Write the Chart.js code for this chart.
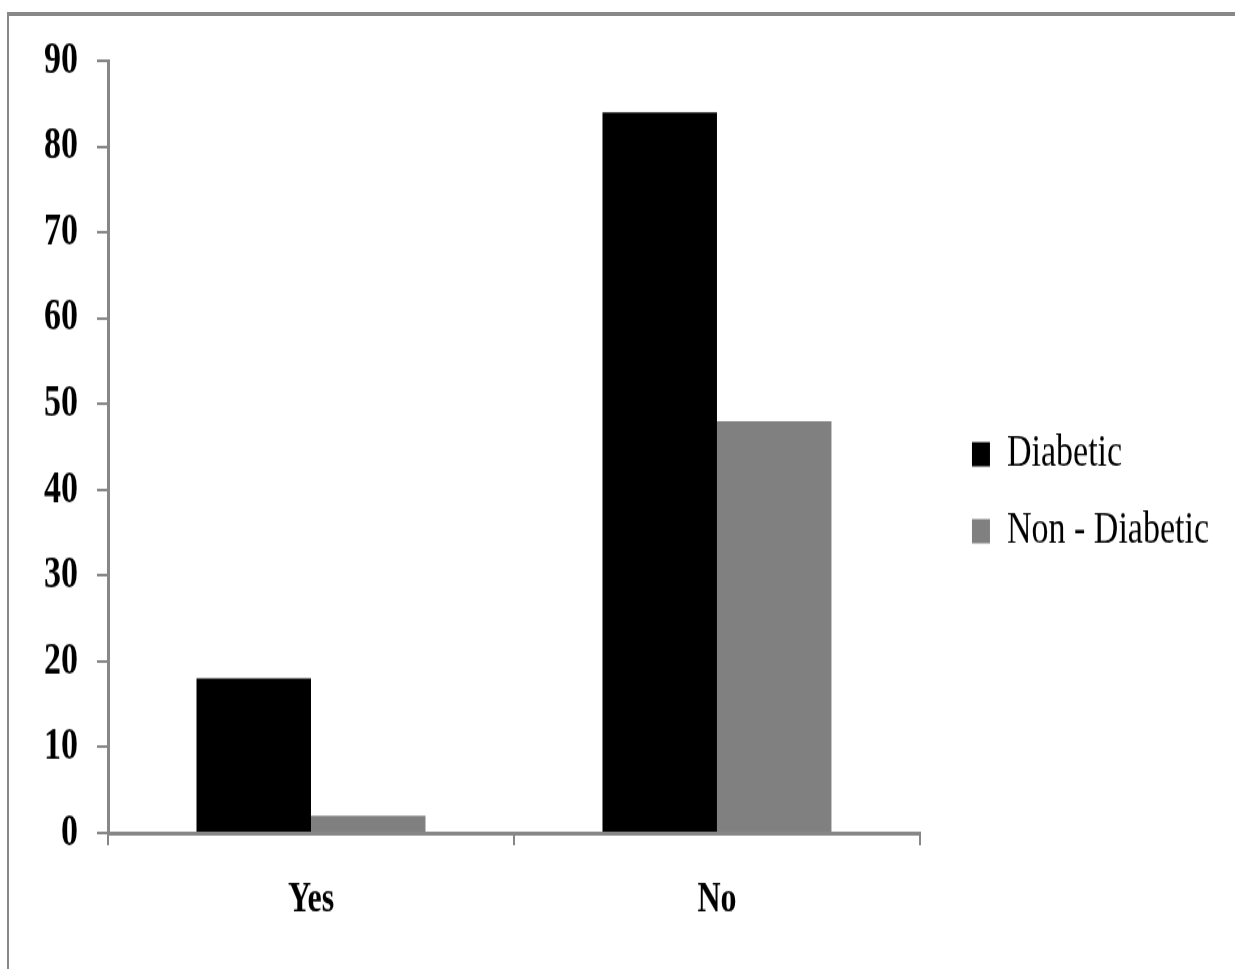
<!DOCTYPE html>
<html>
<head>
<meta charset="utf-8">
<script src="https://cdn.jsdelivr.net/npm/chart.js@4/dist/chart.umd.min.js"></script>
<style>
  html, body { margin: 0; padding: 0; background: #fff; overflow: hidden; }
  #frame { position: absolute; left: 7px; top: 12px; width: 1400px; height: 1100px;
           border-left: 2px solid #888; border-top: 4px solid #888; }
  /* the source picture is stretched tall, so the whole chart is scaled vertically */
  #wrap { position: absolute; left: 0; top: 0; width: 1235px; height: 718px;
          transform: scale(1, 1.35); transform-origin: 0 0; }
</style>
</head>
<body>
<div id="frame"></div>
<div id="wrap"><canvas id="myChart" width="1235" height="718"></canvas></div>
<script>
const categories = ['Yes', 'No'];
const diabetic = [18, 84];
const nonDiabetic = [2, 48];
const yMin = 0;
const yMax = 90;
const yStep = 10;

const axisGray = '#878787';

const ctx = document.getElementById('myChart').getContext('2d');
const myChart = new Chart(ctx, {
    type: 'bar',
    data: {
        labels: categories,
        datasets: [
            {
                label: 'Diabetic',
                data: diabetic,
                backgroundColor: '#000000',
                barPercentage: 1,
                categoryPercentage: 0.564
            },
            {
                label: 'Non - Diabetic',
                data: nonDiabetic,
                backgroundColor: '#808080',
                barPercentage: 1,
                categoryPercentage: 0.564
            }
        ]
    },
    options: {
        responsive: false,
        animation: false,
        layout: { padding: { top: 45, left: 0, right: 16, bottom: 33 } },
        plugins: {
            tooltip: { enabled: false },
            legend: {
                position: 'right',
                maxWidth: 320,
                labels: {
                    boxWidth: 18,
                    boxHeight: 18,
                    padding: 23,
                    color: '#000',
                    font: { family: 'Liberation Serif', size: 34 }
                }
            }
        },
        scales: {
            x: {
                grid: { display: true, drawOnChartArea: false, drawTicks: true, tickLength: 9, color: axisGray, lineWidth: 2, offset: true },
                border: { display: true, color: axisGray, width: 3 },
                ticks: { color: '#000', padding: 22, font: { family: 'Liberation Serif', size: 32, weight: 'bold' } },
                afterFit: s => { s.height = 68; }
            },
            y: {
                min: yMin,
                max: yMax,
                grid: { display: true, drawOnChartArea: false, drawTicks: true, tickLength: 11, color: axisGray, lineWidth: 2 },
                border: { display: true, color: axisGray, width: 3 },
                ticks: { stepSize: yStep, color: '#000', padding: 19, font: { family: 'Liberation Serif', size: 34, weight: 'bold' } },
                afterFit: s => { s.width = 108; }
            },
            // empty axis that only keeps the legend away from the plot
            gap: {
                type: 'linear',
                position: 'right',
                display: true,
                grid: { display: false },
                border: { display: false },
                ticks: { display: false },
                afterFit: s => { s.width = 29; }
            }
        }
    }
});
</script>
</body>
</html>
